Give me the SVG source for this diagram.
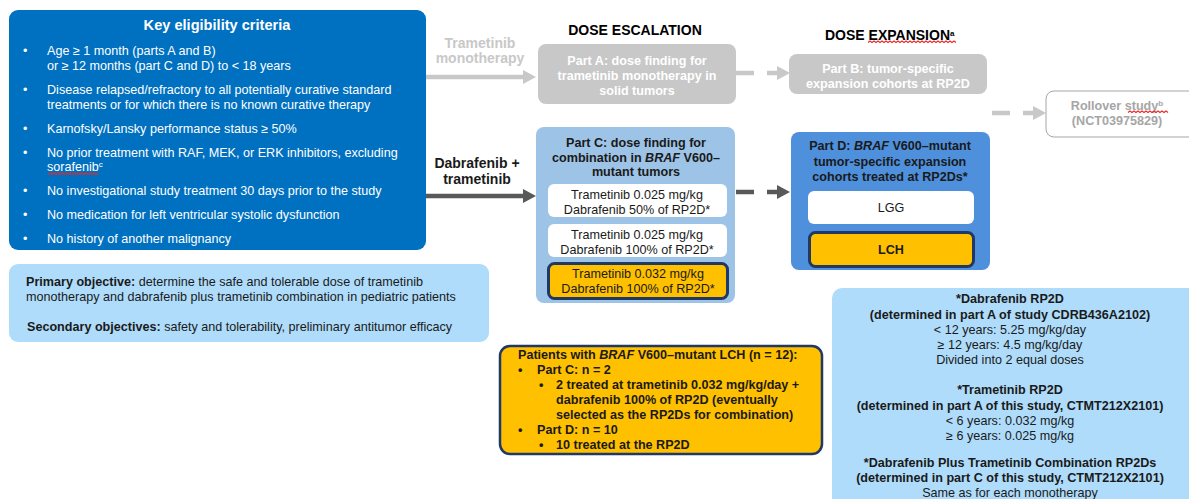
<svg xmlns="http://www.w3.org/2000/svg" width="1189" height="499" viewBox="0 0 1189 499">
<style>
text{font-family:"Liberation Sans",Arial,sans-serif;font-size:12.6px;fill:#1a1a1a}
.b{font-weight:bold}
.i{font-style:italic}
.w{fill:#ffffff}
.c{text-anchor:middle}
.g{fill:#c8c8c8}
.rg{fill:#a6a6a6}
.sq{fill:none;stroke:#e82828;stroke-width:1.1}
</style>
<defs>
<marker id="hg" markerUnits="userSpaceOnUse" markerWidth="13" markerHeight="14" refX="0" refY="7" orient="auto"><path d="M0,0 L13,7 L0,14 z" fill="#c8c8c8"/></marker>
<marker id="hd" markerUnits="userSpaceOnUse" markerWidth="13" markerHeight="14" refX="0" refY="7" orient="auto"><path d="M0,0 L13,7 L0,14 z" fill="#595959"/></marker>
</defs>
<rect width="1189" height="499" fill="#ffffff"/>

<g id="connectors">
<path d="M426,77 H523" stroke="#c8c8c8" stroke-width="4.5" fill="none" marker-end="url(#hg)"/>
<path d="M426,196 H523" stroke="#595959" stroke-width="4.5" fill="none" marker-end="url(#hd)"/>
<path d="M736,73 H777" stroke="#c8c8c8" stroke-width="4.5" stroke-dasharray="18 13" fill="none" marker-end="url(#hg)"/>
<path d="M736,192 H777" stroke="#595959" stroke-width="4.5" stroke-dasharray="18 13" fill="none" marker-end="url(#hd)"/>
<path d="M992,113 H1033" stroke="#c8c8c8" stroke-width="4.5" stroke-dasharray="18 13" fill="none" marker-end="url(#hg)"/>
</g>

<g id="eligibility">
<rect x="9" y="10" width="417" height="240" rx="9" fill="#0070c0"/>
<text x="217" y="30" class="b w c" style="font-size:14.6px">Key eligibility criteria</text>
<g class="w">
<text x="23" y="55" class="w">•</text><text x="47" y="55" class="w">Age ≥ 1 month (parts A and B)</text>
<text x="47" y="70" class="w">or ≥ 12 months (part C and D) to &lt; 18 years</text>
<text x="23" y="94" class="w">•</text><text x="47" y="94" class="w">Disease relapsed/refractory to all potentially curative standard</text>
<text x="47" y="109" class="w">treatments or for which there is no known curative therapy</text>
<text x="23" y="133" class="w">•</text><text x="47" y="133" class="w">Karnofsky/Lansky performance status ≥ 50%</text>
<text x="23" y="157" class="w">•</text><text x="47" y="157" class="w">No prior treatment with RAF, MEK, or ERK inhibitors, excluding</text>
<text x="47" y="171" class="w">sorafenib<tspan baseline-shift="super" style="font-size:8px">c</tspan></text>
<text x="23" y="195" class="w">•</text><text x="47" y="195" class="w">No investigational study treatment 30 days prior to the study</text>
<text x="23" y="219" class="w">•</text><text x="47" y="219" class="w">No medication for left ventricular systolic dysfunction</text>
<text x="23" y="243" class="w">•</text><text x="47" y="243" class="w">No history of another malignancy</text>
</g>
<path class="sq" d="M48,174.5 l2,-1.5 l2,1.5 l2,-1.5 l2,1.5 l2,-1.5 l2,1.5 l2,-1.5 l2,1.5 l2,-1.5 l2,1.5 l2,-1.5 l2,1.5 l2,-1.5 l2,1.5 l2,-1.5 l2,1.5 l2,-1.5 l2,1.5 l2,-1.5 l2,1.5 l2,-1.5 l2,1.5 l2,-1.5 l2,1.5 l2,-1.5"/>
</g>

<g id="objectives">
<rect x="9" y="264" width="480" height="78" rx="9" fill="#afdcfb"/>
<text x="26" y="286"><tspan class="b">Primary objective:</tspan> determine the safe and tolerable dose of trametinib</text>
<text x="26" y="301">monotherapy and dabrafenib plus trametinib combination in pediatric patients</text>
<text x="27" y="331"><tspan class="b">Secondary objectives:</tspan> safety and tolerability, preliminary antitumor efficacy</text>
</g>

<g id="label-mono">
<text x="480" y="48" class="b c g" style="font-size:14px">Trametinib</text>
<text x="480" y="63" class="b c g" style="font-size:14px">monotherapy</text>
</g>

<g id="label-combo">
<text x="477" y="168" class="b c" style="font-size:14px">Dabrafenib +</text>
<text x="477" y="184" class="b c" style="font-size:14px">trametinib</text>
</g>

<g id="header-escalation">
<text x="635" y="35" class="b c" style="font-size:14px;fill:#000">DOSE ESCALATION</text>
</g>

<g id="header-expansion">
<text x="825" y="40" class="b" style="font-size:14px;fill:#000">DOSE EXPANSION<tspan baseline-shift="super" style="font-size:8px">a</tspan></text>
<path class="sq" d="M868,42.5 l2,-1.5 l2,1.5 l2,-1.5 l2,1.5 l2,-1.5 l2,1.5 l2,-1.5 l2,1.5 l2,-1.5 l2,1.5 l2,-1.5 l2,1.5 l2,-1.5 l2,1.5 l2,-1.5 l2,1.5 l2,-1.5 l2,1.5 l2,-1.5 l2,1.5 l2,-1.5 l2,1.5 l2,-1.5 l2,1.5 l2,-1.5 l2,1.5 l2,-1.5 l2,1.5 l2,-1.5 l2,1.5 l2,-1.5 l2,1.5 l2,-1.5 l2,1.5 l2,-1.5 l2,1.5 l2,-1.5 l2,1.5 l2,-1.5 l2,1.5 l2,-1.5 l2,1.5 l2,-1.5 l2,1.5"/>
</g>

<g id="partA">
<rect x="538" y="44" width="198" height="60" rx="8" fill="#c8c8c8"/>
<text x="637" y="65" class="b w c">Part A: dose finding for</text>
<text x="637" y="80" class="b w c">trametinib monotherapy in</text>
<text x="637" y="95" class="b w c">solid tumors</text>
</g>

<g id="partB">
<rect x="789" y="54" width="198" height="40" rx="8" fill="#c8c8c8"/>
<text x="888" y="73" class="b w c">Part B: tumor-specific</text>
<text x="888" y="88" class="b w c">expansion cohorts at RP2D</text>
</g>

<g id="rollover">
<rect x="1046" y="91" width="150" height="46" rx="8" fill="#ffffff" stroke="#a6a6a6" stroke-width="1"/>
<text x="1117" y="110" class="b c rg">Rollover study<tspan baseline-shift="super" style="font-size:8px">b</tspan></text>
<text x="1117" y="125" class="b c rg">(NCT03975829)</text>
<path class="sq" d="M1128,112.5 l2,-1.5 l2,1.5 l2,-1.5 l2,1.5 l2,-1.5 l2,1.5 l2,-1.5 l2,1.5 l2,-1.5 l2,1.5 l2,-1.5 l2,1.5 l2,-1.5 l2,1.5 l2,-1.5 l2,1.5 l2,-1.5 l2,1.5 l2,-1.5 l2,1.5"/>
</g>

<g id="partC">
<rect x="536" y="127" width="199" height="176" rx="8" fill="#9dc3e6"/>
<text x="636" y="147" class="b c">Part C: dose finding for</text>
<text x="636" y="162" class="b c">combination in <tspan class="i">BRAF</tspan> V600–</text>
<text x="636" y="176" class="b c">mutant tumors</text>
<rect x="548" y="184" width="179" height="33" rx="6" fill="#ffffff"/>
<text x="637" y="199" class="c">Trametinib 0.025 mg/kg</text>
<text x="637" y="214" class="c">Dabrafenib 50% of RP2D*</text>
<rect x="548" y="224" width="179" height="33" rx="6" fill="#ffffff"/>
<text x="637" y="239" class="c">Trametinib 0.025 mg/kg</text>
<text x="637" y="254" class="c">Dabrafenib 100% of RP2D*</text>
<rect x="548.5" y="263.5" width="179" height="35" rx="6" fill="#ffc000" stroke="#1f3864" stroke-width="3"/>
<text x="638" y="278" class="c">Trametinib 0.032 mg/kg</text>
<text x="638" y="293" class="c">Dabrafenib 100% of RP2D*</text>
</g>

<g id="partD">
<rect x="791" y="132" width="199" height="138" rx="8" fill="#4e90dc"/>
<text x="890" y="150" class="b c">Part D: <tspan class="i">BRAF</tspan> V600–mutant</text>
<text x="890" y="166" class="b c">tumor-specific expansion</text>
<text x="890" y="181" class="b c">cohorts treated at RP2Ds*</text>
<rect x="808" y="191" width="166" height="33" rx="6" fill="#ffffff"/>
<text x="891" y="212" class="c">LGG</text>
<rect x="809.5" y="232.5" width="164" height="34" rx="6" fill="#ffc000" stroke="#1f3864" stroke-width="3"/>
<text x="891" y="254" class="b c">LCH</text>
</g>

<g id="lch-patients">
<rect x="500" y="346" width="322" height="108" rx="10" fill="#ffc000" stroke="#1f3864" stroke-width="2.5"/>
<text x="518" y="359" class="b">Patients with <tspan class="i">BRAF</tspan> V600–mutant LCH (n = 12):</text>
<text x="518" y="374" class="b">•</text><text x="537" y="374" class="b">Part C: n = 2</text>
<text x="539" y="389" class="b">•</text><text x="556" y="389" class="b">2 treated at trametinib 0.032 mg/kg/day +</text>
<text x="556" y="404" class="b">dabrafenib 100% of RP2D (eventually</text>
<text x="556" y="419" class="b">selected as the RP2Ds for combination)</text>
<text x="518" y="434" class="b">•</text><text x="537" y="434" class="b">Part D: n = 10</text>
<text x="539" y="449" class="b">•</text><text x="556" y="449" class="b">10 treated at the RP2D</text>
</g>

<g id="rp2d">
<rect x="832" y="288" width="370" height="225" rx="10" fill="#afdcfb"/>
<text x="1010" y="303" class="b c">*Dabrafenib RP2D</text>
<text x="1010" y="319" class="b c">(determined in part A of study CDRB436A2102)</text>
<text x="1010" y="334" class="c">&lt; 12 years: 5.25 mg/kg/day</text>
<text x="1010" y="349" class="c">≥ 12 years: 4.5 mg/kg/day</text>
<text x="1010" y="364" class="c">Divided into 2 equal doses</text>
<text x="1010" y="394" class="b c">*Trametinib RP2D</text>
<text x="1010" y="410" class="b c">(determined in part A of this study, CTMT212X2101)</text>
<text x="1010" y="425" class="c">&lt; 6 years: 0.032 mg/kg</text>
<text x="1010" y="440" class="c">≥ 6 years: 0.025 mg/kg</text>
<text x="1010" y="467" class="b c">*Dabrafenib Plus Trametinib Combination RP2Ds</text>
<text x="1010" y="482" class="b c">(determined in part C of this study, CTMT212X2101)</text>
<text x="1010" y="497" class="c">Same as for each monotherapy</text>
</g>
</svg>
